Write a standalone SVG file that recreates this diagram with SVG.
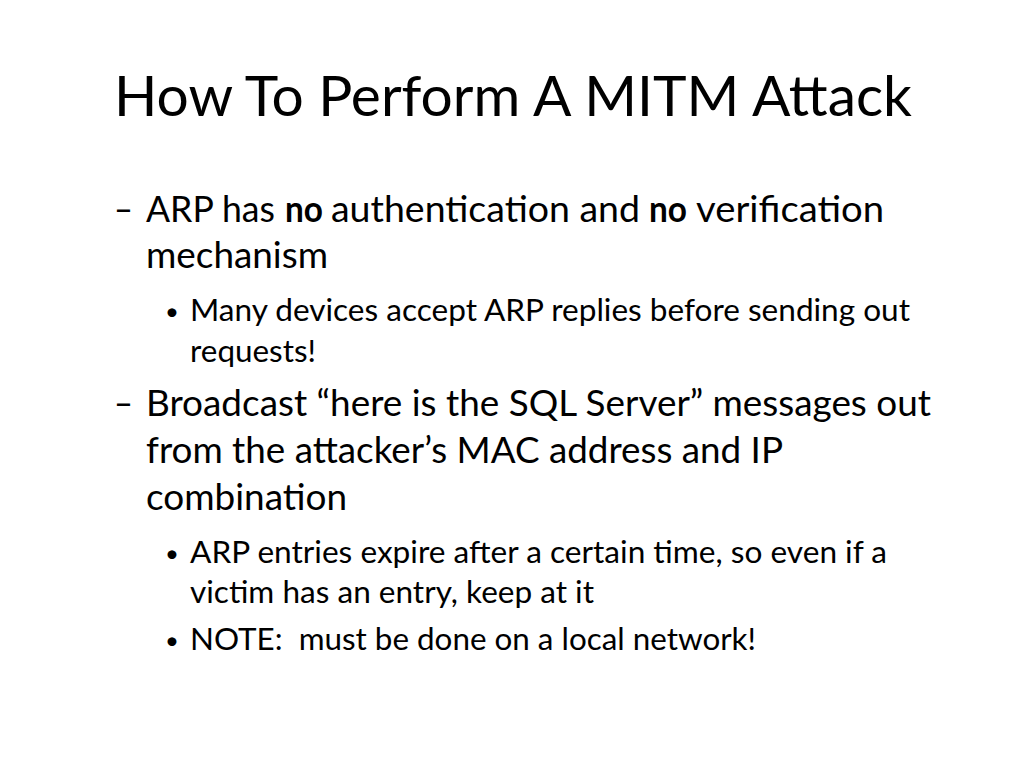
<svg xmlns="http://www.w3.org/2000/svg" width="1024" height="768" viewBox="0 0 1024 768">
<style>
text{font-family:Lato,"Open Sans","Liberation Sans",sans-serif;fill:#000}
.t{font-size:56px}
.l1{font-size:36px}
.l2{font-size:31px}
.bu{font-size:24px}
.b{font-weight:bold}
</style>
<rect width="1024" height="768" fill="#fff"/>
<g id="title">
<text class="t" x="114" y="116" textLength="798" lengthAdjust="spacingAndGlyphs">How To Perform A MITM Attack</text>
</g>
<g id="item1">
<text class="l1" x="114" y="222" textLength="19" lengthAdjust="spacingAndGlyphs">–</text>
<text class="l1" x="146" y="222" textLength="129" lengthAdjust="spacingAndGlyphs">ARP has</text>
<text class="l1 b" x="285" y="222" textLength="38" lengthAdjust="spacingAndGlyphs">no</text>
<text class="l1" x="331" y="222" textLength="309" lengthAdjust="spacingAndGlyphs">authentication and</text>
<text class="l1 b" x="649" y="222" textLength="38" lengthAdjust="spacingAndGlyphs">no</text>
<text class="l1" x="696" y="222" textLength="188" lengthAdjust="spacingAndGlyphs">verification</text>
<text class="l1" x="146" y="268" textLength="182" lengthAdjust="spacingAndGlyphs">mechanism</text>
</g>
<g id="item1-1">
<text class="bu" x="165" y="320">•</text>
<text class="l2" x="190" y="321" textLength="720" lengthAdjust="spacingAndGlyphs">Many devices accept ARP replies before sending out</text>
<text class="l2" x="190" y="362" textLength="126" lengthAdjust="spacingAndGlyphs">requests!</text>
</g>
<g id="item2">
<text class="l1" x="114" y="416" textLength="19" lengthAdjust="spacingAndGlyphs">–</text>
<text class="l1" x="146" y="416" textLength="785" lengthAdjust="spacingAndGlyphs">Broadcast “here is the SQL Server” messages out</text>
<text class="l1" x="146" y="463" textLength="637" lengthAdjust="spacingAndGlyphs">from the attacker’s MAC address and IP</text>
<text class="l1" x="146" y="510" textLength="201" lengthAdjust="spacingAndGlyphs">combination</text>
</g>
<g id="item2-1">
<text class="bu" x="165" y="562">•</text>
<text class="l2" x="190" y="563" textLength="697" lengthAdjust="spacingAndGlyphs">ARP entries expire after a certain time, so even if a</text>
<text class="l2" x="190" y="603" textLength="404" lengthAdjust="spacingAndGlyphs">victim has an entry, keep at it</text>
</g>
<g id="item2-2">
<text class="bu" x="165" y="649">•</text>
<text class="l2" x="190" y="650" textLength="566" lengthAdjust="spacingAndGlyphs" xml:space="preserve">NOTE:  must be done on a local network!</text>
</g>
</svg>
